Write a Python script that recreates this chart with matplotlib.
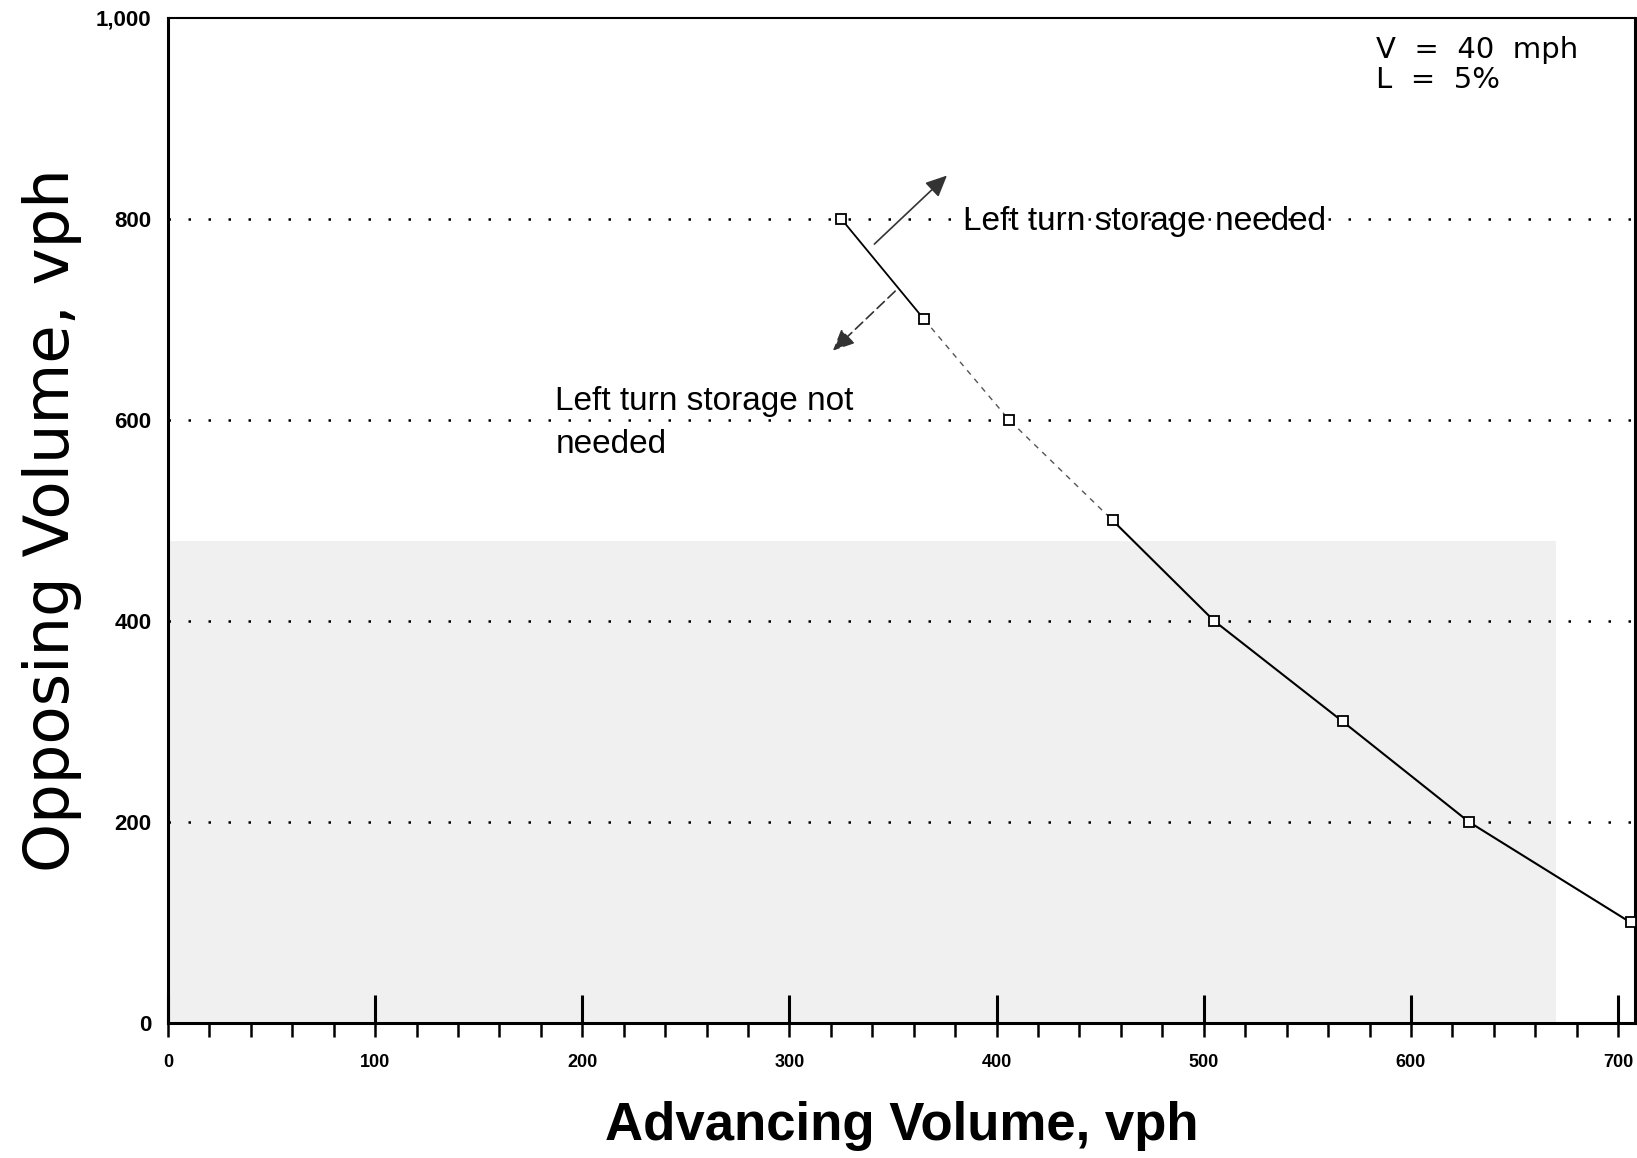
import matplotlib
matplotlib.use('Agg')
import matplotlib.pyplot as plt
import numpy as np

plt.rcParams['font.family'] = ['Liberation Sans', 'DejaVu Sans']

# curve data
advancing = [325, 365, 406, 456, 505, 567, 628, 706]
opposing = [800, 700, 600, 500, 400, 300, 200, 100]
grid_levels = [200, 400, 600, 800]
x_ticks = [0, 100, 200, 300, 400, 500, 600, 700]
y_ticks = [0, 200, 400, 600, 800, 1000]
y_ticklabels = ['0', '200', '400', '600', '800', '1,000']

fig = plt.figure(figsize=(16.37, 11.58), dpi=100)
ax = fig.add_axes([0.1026, 0.1166, 0.896, 0.868])
ax.set_xlim(0, 708)
ax.set_ylim(0, 1000)

# faint scan shading in the lower part of the plot
ax.axhspan(0, 480, xmin=0, xmax=670 / 708, color='#f0f0f0', zorder=0, lw=0)

for g in grid_levels:
    ax.axhline(g, color='black', ls=(0, (1, 7)), lw=1.8, zorder=1)

# curve: solid ends, faint middle part
ax.plot(advancing[:2], opposing[:2], color='black', lw=1.3, zorder=3)
ax.plot(advancing[1:4], opposing[1:4], color='#555555', lw=1.0, ls=(0, (4, 4)), zorder=3)
ax.plot(advancing[3:], opposing[3:], color='black', lw=1.5, zorder=3)
ax.plot(advancing, opposing, ls='none', marker='s', ms=7, mfc='white', mec='black', mew=1.3, zorder=4)

# arrows pointing to the two regions
ax.annotate('', xy=(377, 845), xytext=(340, 773),
            arrowprops=dict(arrowstyle='-|>,head_length=1.3,head_width=0.6', color='#333333', lw=1.2))
ax.annotate('', xy=(320, 667), xytext=(352, 730),
            arrowprops=dict(arrowstyle='-|>,head_length=1.3,head_width=0.6', color='#333333', lw=1.2,
                            linestyle=(0, (6, 3))))

ax.text(384, 797, 'Left turn storage needed', fontsize=24, va='center', ha='left')
ax.text(187, 634, 'Left turn storage not\nneeded', fontsize=24, va='top', ha='left',
        linespacing=1.5)
ax.text(583, 982, 'V  =  40  mph\nL  =  5%', fontsize=21, family=['DejaVu Sans'],
        va='top', ha='left', linespacing=1.1)

ax.set_xticks(x_ticks)
ax.set_xticks(np.arange(0, 701, 20), minor=True)
ax.xaxis.remove_overlapping_locs = False
ax.set_yticks(y_ticks)
ax.set_yticklabels(y_ticklabels)
ax.tick_params(axis='x', which='major', direction='in', length=20, width=2.2,
               labelsize=13, pad=22)
ax.tick_params(axis='x', which='minor', direction='out', length=10, width=1.8)
ax.tick_params(axis='y', which='both', length=0, labelsize=16, pad=12)
for lab in ax.get_xticklabels() + ax.get_yticklabels():
    lab.set_fontweight('bold')

for side in ['left', 'bottom', 'right']:
    ax.spines[side].set_linewidth(2.2)
ax.spines['top'].set_linewidth(1.5)

ax.set_xlabel('Advancing Volume, vph', fontsize=38, fontweight='bold', labelpad=22)
ax.set_ylabel('Opposing Volume, vph', fontsize=45, family=['DejaVu Sans'], labelpad=10)

fig.savefig('out.png', dpi=100)
